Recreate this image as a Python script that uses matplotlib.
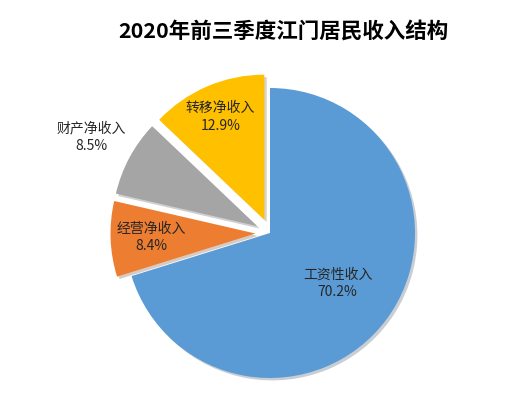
import matplotlib
matplotlib.use('Agg')
import matplotlib.pyplot as plt
import numpy as np

plt.rcParams['font.family'] = ['Noto Sans CJK SC', 'DejaVu Sans']

# data
names = ['工资性收入', '经营净收入', '财产净收入', '转移净收入']
shares = [70.2, 8.4, 8.5, 12.9]
colors = ['#5B9BD5', '#ED7D31', '#A5A5A5', '#FFC000']
explode = [0, 0.1, 0.1, 0.1]
label_r = [0.58, 0.72, 1.30, 0.77]   # label distance per slice
title = '2020年前三季度江门居民收入结构'

fig = plt.figure(figsize=(5.31, 4.13), dpi=100)
# pie centre at (270, 233) px, radius 145 px
L = 1.5
W = 2 * L * 145
ax = fig.add_axes([(270 - W / 2) / 531, (180 - W / 2) / 413, W / 531, W / 413])

wedges, _ = ax.pie(shares, colors=colors, explode=explode, startangle=90,
                   counterclock=False,
                   shadow={'ox': 0.012, 'oy': -0.012, 'shade': 0.6, 'alpha': 0.25},
                   wedgeprops=dict(linewidth=0))

for w, n, s, d in zip(wedges, names, shares, label_r):
    mid = np.deg2rad((w.theta1 + w.theta2) / 2)
    cx, cy = w.center
    ax.text(cx + d * w.r * np.cos(mid), cy + d * w.r * np.sin(mid),
            f'{n}\n{s:.1f}%', ha='center', va='center', fontsize=10,
            color='#262626', linespacing=1.3)

ax.set_xlim(-L, L)
ax.set_ylim(-L, L)
ax.set_aspect('equal')
ax.axis('off')

fig.text(0.533, 0.925, title, ha='center', va='center', fontsize=15.5,
         fontweight='bold', color='black')

fig.savefig('out.png', dpi=100)
